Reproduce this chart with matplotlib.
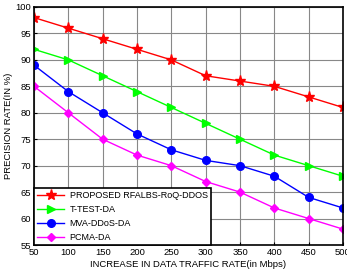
import matplotlib
matplotlib.use("Agg")
import matplotlib.pyplot as plt

x = [50, 100, 150, 200, 250, 300, 350, 400, 450, 500]
proposed = [98, 96, 94, 92, 90, 87, 86, 85, 83, 81]
ttest = [92, 90, 87, 84, 81, 78, 75, 72, 70, 68]
mva = [89, 84, 80, 76, 73, 71, 70, 68, 64, 62]
pcma = [85, 80, 75, 72, 70, 67, 65, 62, 60, 58]
labels = ["PROPOSED RFALBS-RoQ-DDOS", "T-TEST-DA", "MVA-DDoS-DA", "PCMA-DA"]

plt.rcParams['font.family'] = ['Liberation Sans', 'DejaVu Sans']
fig = plt.figure(figsize=(3.47, 2.72), dpi=100)
ax = fig.add_axes([34/347, 1-245/272, (343-34)/347, (245-7)/272])

ax.plot(x, proposed, color='red', marker='*', markersize=8, lw=1, label=labels[0])
ax.plot(x, ttest, color='#00ff00', marker='>', markersize=6, lw=1, label=labels[1])
ax.plot(x, mva, color='blue', marker='o', markersize=5.5, lw=1, label=labels[2])
ax.plot(x, pcma, color='magenta', marker='D', markersize=4.5, lw=1, label=labels[3])

ax.set_xlim(50, 500)
ax.set_ylim(55, 100)
ax.set_xticks(x)
ax.set_yticks(range(55, 101, 5))
ax.grid(True, color='#888888', lw=0.8)
ax.tick_params(labelsize=6.8, direction='in', length=2, pad=2)
for s in ax.spines.values():
    s.set_linewidth(1.2)
ax.set_xlabel("INCREASE IN DATA TRAFFIC RATE(in Mbps)", fontsize=6.8, labelpad=2)
ax.set_ylabel("PRECISION RATE(IN %)", fontsize=6.8, labelpad=2)
leg = ax.legend(loc='lower left', fontsize=6.5, fancybox=False, framealpha=1,
                edgecolor='black', borderaxespad=0, handlelength=3.0,
                handletextpad=0.6, borderpad=0.35, labelspacing=0.55)
leg.get_frame().set_linewidth(1.2)
fig.savefig("out.png", dpi=100)
